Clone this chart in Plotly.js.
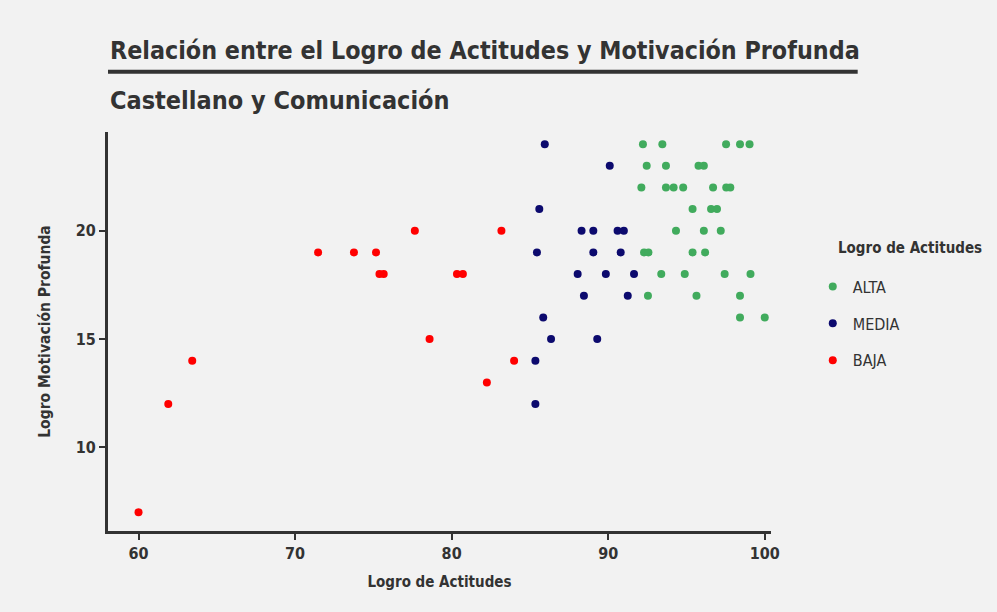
<!DOCTYPE html>
<html>
<head>
<meta charset="utf-8">
<script src="https://cdn.plot.ly/plotly-3.0.1.min.js"></script>
<style>
html,body{margin:0;padding:0;background:#f2f2f2;}
#chart{width:997px;height:612px;}
</style>
</head>
<body>
<div id="chart"></div>
<script>
const groups = ["ALTA", "MEDIA", "BAJA"];
const colors = ["#41ab5d", "#0c0a6e", "#ff0000"];

const altaX = [92.22, 93.46, 97.53, 98.42, 99.03,
               92.46, 93.69, 95.77, 96.11,
               92.12, 93.69, 94.18, 94.79, 96.7, 97.54, 97.8,
               95.39, 96.57, 96.95,
               94.33, 96.11, 97.19,
               92.29, 92.57, 95.39, 96.19,
               93.39, 94.89, 97.44, 99.09,
               92.54, 95.64, 98.42,
               98.42, 100];
const altaY = [24, 24, 24, 24, 24,
               23, 23, 23, 23,
               22, 22, 22, 22, 22, 22, 22,
               21, 21, 21,
               20, 20, 20,
               19, 19, 19, 19,
               18, 18, 18, 18,
               17, 17, 17,
               16, 16];

const mediaX = [85.95, 90.1, 85.6, 88.3, 89.05, 90.6, 91.0,
                85.45, 89.05, 90.8, 88.05, 89.85, 91.65,
                88.45, 91.25, 85.85, 86.35, 89.3, 85.35, 85.35];
const mediaY = [24, 23, 21, 20, 20, 20, 20,
                19, 19, 19, 18, 18, 18,
                17, 17, 16, 15, 15, 14, 12];

const bajaX = [60, 61.9, 63.43, 71.47, 73.76, 75.17, 75.39, 75.66,
               77.65, 78.59, 80.34, 80.72, 83.18, 83.99, 82.25];
const bajaY = [7, 12, 14, 19, 19, 19, 18, 18,
               20, 15, 18, 18, 20, 14, 13];

const xTicks = [60, 70, 80, 90, 100];
const yTicks = [10, 15, 20];

const titleText = "Relación entre el Logro de Actitudes y Motivación Profunda";
const subtitleText = "Castellano y Comunicación";
const xTitle = "Logro de Actitudes";
const yTitle = "Logro Motivación Profunda";
const legendTitle = "Logro de Actitudes";

const FONT = '"DejaVu Sans Condensed", "Liberation Sans Narrow", "Roboto", sans-serif';
const INK = "#333333";

const xs = [altaX, mediaX, bajaX];
const ys = [altaY, mediaY, bajaY];

const traces = groups.map((g, i) => ({
  type: "scatter",
  mode: "markers",
  name: g,
  legendgroup: g,
  x: xs[i],
  y: ys[i],
  marker: {color: colors[i], size: 8},
  hoverinfo: "x+y+name"
}));

const layout = {
  width: 997,
  height: 612,
  paper_bgcolor: "#f2f2f2",
  plot_bgcolor: "#f2f2f2",
  margin: {l: 108, r: 226, t: 132, b: 81},
  font: {family: FONT, color: INK, size: 16},
  showlegend: true,
  legend: {
    x: 1.063, xanchor: "left",
    y: 0.655, yanchor: "top",
    bgcolor: "rgba(0,0,0,0)",
    traceorder: "grouped",
    tracegroupgap: 13,
    itemwidth: 30,
    font: {family: FONT, size: 16, color: INK}
  },
  xaxis: {
    range: [58.05, 100.4],
    tickvals: xTicks,
    ticktext: xTicks.map(v => "<b>" + v + "</b>"),
    showgrid: false,
    zeroline: false,
    showline: true,
    linecolor: INK,
    linewidth: 3,
    ticks: "outside",
    ticklen: 6,
    tickwidth: 2,
    tickcolor: INK,
    tickfont: {family: FONT, size: 16, color: INK},
    title: {text: "<b>" + xTitle + "</b>", font: {family: FONT, size: 15, color: INK}, standoff: 15}
  },
  yaxis: {
    range: [6.14, 24.56],
    tickvals: yTicks,
    ticktext: yTicks.map(v => "<b>" + v + "</b>"),
    showgrid: false,
    zeroline: false,
    showline: true,
    linecolor: INK,
    linewidth: 3,
    ticks: "outside",
    ticklen: 6,
    tickwidth: 2,
    tickcolor: INK,
    tickfont: {family: FONT, size: 16, color: INK},
    title: {text: "<b>" + yTitle + "</b>", font: {family: FONT, size: 15.5, color: INK}, standoff: 22}
  },
  annotations: [
    {text: "<b>" + titleText + "</b>", xref: "paper", yref: "paper", x: 0, y: 1.2055,
     xanchor: "left", yanchor: "middle", showarrow: false,
     font: {family: FONT, size: 24.8, color: INK}},
    {text: "<b>" + subtitleText + "</b>", xref: "paper", yref: "paper", x: 0, y: 1.08,
     xanchor: "left", yanchor: "middle", showarrow: false,
     font: {family: FONT, size: 25, color: INK}},
    {text: "<b>" + legendTitle + "</b>", xref: "paper", yref: "paper", x: 1.098, y: 0.709,
     xanchor: "left", yanchor: "middle", showarrow: false,
     font: {family: FONT, size: 15, color: INK}}
  ],
  shapes: [
    {type: "line", xref: "paper", yref: "paper", x0: 0, x1: 1.13, y0: 1.151, y1: 1.151,
     line: {color: INK, width: 4}}
  ]
};

Plotly.newPlot("chart", traces, layout, {displayModeBar: false, responsive: false}).then(gd => {
  // match the underline to the rendered title width
  const t = gd.querySelector(".annotation[data-index='0'] .annotation-text");
  if (t) {
    const w = t.getBBox().width;
    const plotW = gd._fullLayout._size.w;
    Plotly.relayout(gd, {"shapes[0].x1": w / plotW});
  }
});
</script>
</body>
</html>
